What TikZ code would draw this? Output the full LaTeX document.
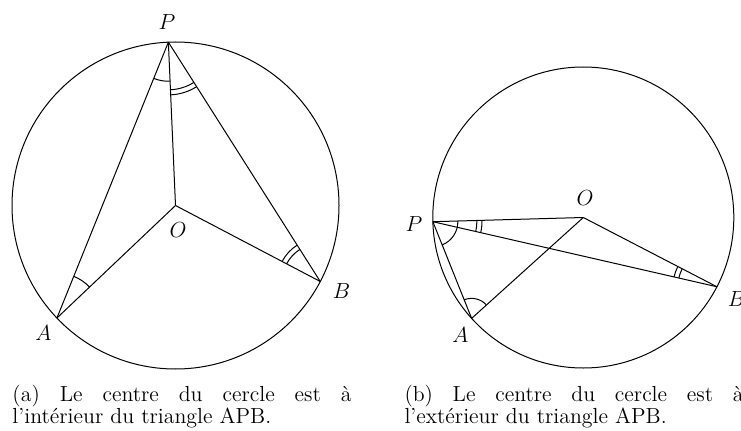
\documentclass[tikz,border=0pt]{standalone}
\usepackage{amsmath}
\usepackage{tikz}
\usetikzlibrary{angles, calc}

\begin{document}
\begin{tikzpicture}[x=0.55pt, y=0.55pt, line width=0.55pt,
    lbl/.style={inner sep=0pt, font=\fontsize{12}{12.1}\selectfont},
    capt/.style={inner sep=0pt, anchor=north west, text width=186.5pt, align=justify, font=\fontsize{12}{12.1}\selectfont},
    ang/.style={draw, line width=0.55pt}]
    \useasboundingbox (0,0) rectangle (741,430);
    % (a) centre inside
    \coordinate (O1) at (175.5,224.5);
    \coordinate (P1) at ($(O1)+(92.5:163.5)$);
    \coordinate (A1) at ($(O1)+(223.5:163.5)$);
    \coordinate (B1) at ($(O1)+(332.3:163.5)$);
    \draw (O1) circle[radius=163.5];
    \foreach \i/\j in {P1/A1,P1/O1,P1/B1,A1/O1,O1/B1} {
        \draw (\i)--(\j);
    }
    \pic[ang, angle radius=21.5pt] {angle=A1--P1--O1};
    \pic[ang, angle radius=26.2pt] {angle=O1--P1--B1};
    \pic[ang, angle radius=29pt] {angle=O1--P1--B1};
    \pic[ang, angle radius=24.75pt] {angle=O1--A1--P1};
    \pic[ang, angle radius=20.9pt] {angle=P1--B1--O1};
    \pic[ang, angle radius=23.7pt] {angle=P1--B1--O1};
    \node[lbl] (lP1) at (167,408) {$P$};
    \node[lbl] (lO1) at (178,200) {$O$};
    \node[lbl] (lA1) at (43.5,96.5) {$A$};
    \node[lbl] (lB1) at (341.5,138.5) {$B$};
    \node[capt] (capA) at (12,45) {(a) Le centre du cercle est à\linebreak l’intérieur du triangle APB.};
    % (b) centre outside
    \coordinate (O2) at (583.3,212.5);
    \coordinate (P2) at ($(O2)+(181.6:150.5)$);
    \coordinate (A2) at ($(O2)+(222.1:150.5)$);
    \coordinate (B2) at ($(O2)+(332.6:150.5)$);
    \draw (O2) circle[radius=150.5];
    \foreach \i/\j in {P2/A2,P2/O2,P2/B2,A2/O2,O2/B2} {
        \draw (\i)--(\j);
    }
    \pic[ang, angle radius=13.75pt] {angle=A2--P2--O2};
    \pic[ang, angle radius=24.2pt] {angle=B2--P2--O2};
    \pic[ang, angle radius=27pt] {angle=B2--P2--O2};
    \pic[ang, angle radius=11pt] {angle=O2--A2--P2};
    \pic[ang, angle radius=21.5pt] {angle=O2--B2--P2};
    \pic[ang, angle radius=24.2pt] {angle=O2--B2--P2};
    \node[lbl] (lP2) at (414,206) {$P$};
    \node[lbl] (lO2) at (585,232) {$O$};
    \node[lbl] (lA2) at (460.5,94.5) {$A$};
    \node[lbl] (lB2) at (736.5,130.5) {$B$};
    \node[capt] (capB) at (404,45) {(b) Le centre du cercle est à\linebreak l’extérieur du triangle APB.};
\end{tikzpicture}
\end{document}
